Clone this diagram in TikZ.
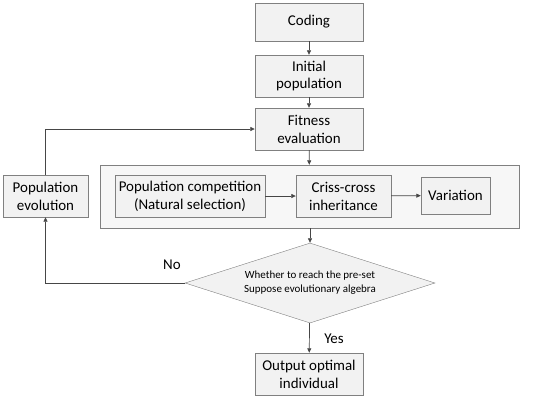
\documentclass[tikz,border=0pt]{standalone}
\usepackage{fontspec}
\setmainfont{Carlito}
\usepackage{tikz}
\usetikzlibrary{
    arrows.meta,
    positioning,
    shapes.geometric
}
\definecolor{boxLine}{RGB}{128,128,128}
\definecolor{boxFill}{RGB}{242,242,242}
\definecolor{grpFill}{RGB}{247,247,247}
\definecolor{arrGray}{RGB}{70,70,70}
\tikzset{
  block/.style   = {draw=boxLine, fill=boxFill, minimum width=108bp,
                    minimum height=42bp, align=center, inner sep=1bp,
                    font=\fontsize{15}{18}\selectfont},
  group/.style   = {draw=boxLine, fill=grpFill, minimum width=419bp,
                    minimum height=63bp},
  test/.style    = {diamond, aspect=3.125, draw=boxLine, fill=boxFill,
                    minimum width=250bp, minimum height=80bp, inner sep=0pt,
                    align=center, font=\fontsize{11}{14}\selectfont},
  lbl/.style     = {font=\fontsize{15}{18}\selectfont},
  arr/.style     = {-{Triangle[length=4.5bp,width=4bp]}, arrGray, line width=0.7bp}
}

\begin{document}
\begin{tikzpicture}[x=1bp,y=-1bp]
    \useasboundingbox (0,0) rectangle (550,400);

    \node[block, minimum height=38bp] (coding) at (309,22)  {Coding};
    \node[block] (init)   at (309,76)  {Initial\\population};
    \node[block] (fit)    at (309,129) {Fitness\\evaluation};

    \node[group] (grp)    at (309.5,196.5) {};
    \node[block, minimum width=85bp]  (evo)   at (45.5,196)  {Population\\evolution};
    \node[block, minimum width=150bp] (comp)  at (190,196)   {Population competition\\(Natural selection)};
    \node[block, minimum width=95bp]  (cross) at (343.5,196) {Criss-cross\\inheritance};
    \node[block, minimum width=69bp, minimum height=37bp] (var) at (455.5,195.5) {Variation};

    \node[test]  (reach)  at (310,283) {Whether to reach the pre-set\\Suppose evolutionary algebra};
    \node[block] (output) at (309,374) {Output optimal\\individual};

    \draw[arr] (coding) -- (init);
    \draw[arr] (init) -- (fit);
    \draw[arr] (fit) -- (grp);
    \draw[arr] (comp) -- (cross);
    \draw[arr] (cross) -- (var);
    \draw[arr] (grp.south -| reach.north) -- (reach);
    \draw[arr] (reach) -- (output);
    \draw[arr] (reach.west) -| (evo.south);
    \draw[arr] (evo.north) |- (fit.west);

    \node[lbl] (no)  at (172,265) {No};
    \node[lbl] (yes) at (334,339) {Yes};
  \end{tikzpicture}
\end{document}
